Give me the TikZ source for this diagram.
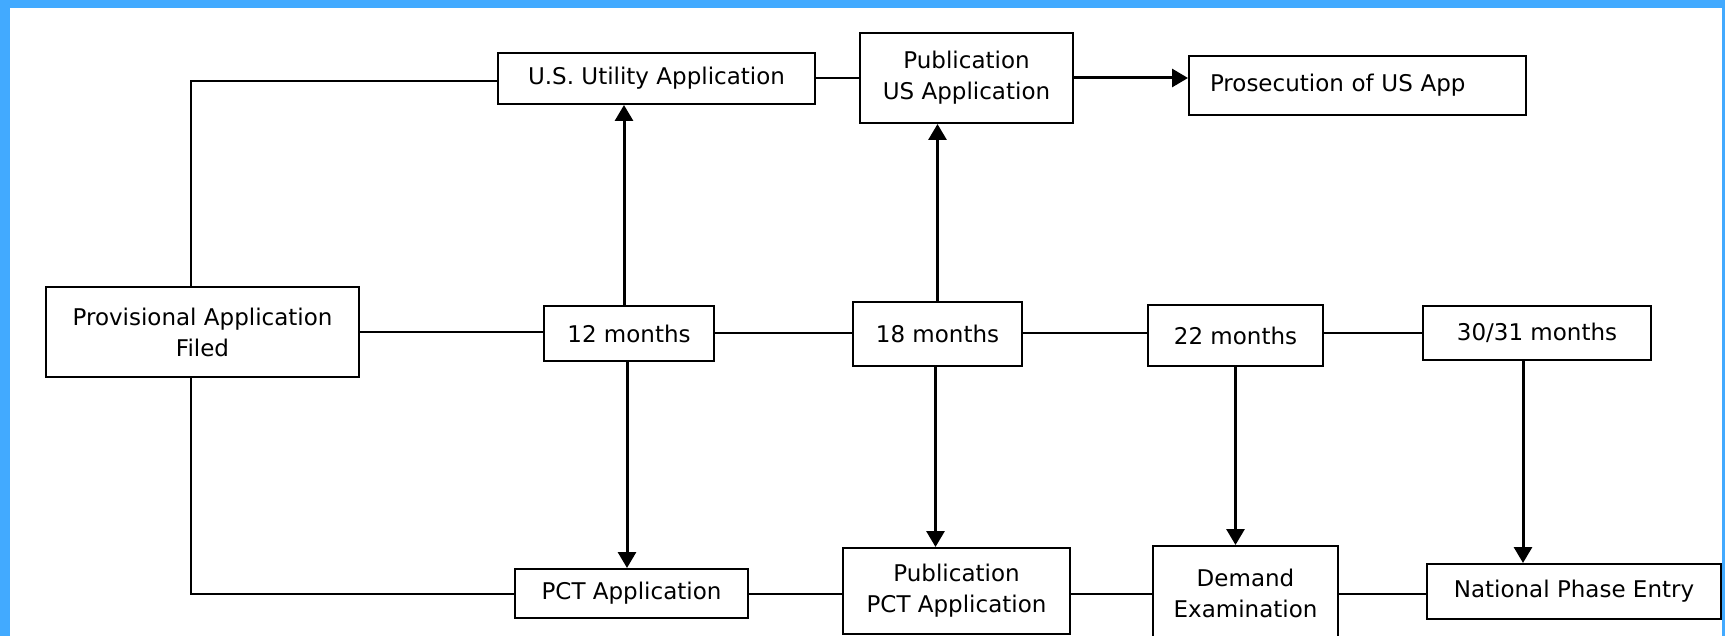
\documentclass[tikz,border=0pt]{standalone}
\usepackage{fontspec}
\setmainfont{DejaVu Sans}
\usetikzlibrary{arrows.meta}
\definecolor{frameblue}{RGB}{66,170,255}
\tikzset{
  box/.style={draw=black, line width=1pt, inner sep=0pt, align=center,
    font=\fontsize{11.5pt}{15.5pt}\selectfont},
  link/.style={draw=black, line width=1pt},
  arr/.style={draw=black, line width=1.5pt, -{Triangle[length=8pt,width=9pt]}}
}
\begin{document}
\begin{tikzpicture}[x=0.5pt,y=-0.5pt]
\useasboundingbox (0,0) rectangle (1725,636);
\fill[white] (0,0) rectangle (1725,636);
\fill[frameblue] (0,0) rectangle (1725,8);
\fill[frameblue] (0,0) rectangle (10,636);
\fill[frameblue] (1722,0) rectangle (1725,636);

% top row
\node[box, minimum width=158.5pt, minimum height=25.5pt] (usu) at (656.5,78.5) {U.S. Utility Application};
\node[box, minimum width=106.5pt, minimum height=45pt] (pubus) at (966.5,78) {Publication\\US Application};
\node[box, minimum height=29.5pt, text width=147.5pt, inner xsep=10.5pt, align=left] (pros) at (1357.5,85.5) {Prosecution of US App};

% middle row
\node[box, minimum width=156.5pt, minimum height=45pt] (prov) at (202.5,332) {Provisional Application\\Filed};
\node[box, minimum width=85pt, minimum height=27.5pt] (m12) at (629,333.5) {12 months};
\node[box, minimum width=84.5pt, minimum height=32pt] (m18) at (937.5,334) {18 months};
\node[box, minimum width=87.5pt, minimum height=30.5pt] (m22) at (1235.5,335.5) {22 months};
\node[box, minimum width=114pt, minimum height=27pt] (m30) at (1537,333) {30/31 months};

% bottom row
\node[box, minimum width=116.5pt, minimum height=24.5pt] (pct) at (631.5,593.5) {PCT Application};
\node[box, minimum width=113.5pt, minimum height=43pt] (pubpct) at (956.5,591) {Publication\\PCT Application};
\node[box, minimum width=92.5pt, minimum height=47pt] (dem) at (1245.5,593) {Demand\\Examination};
\node[box, minimum width=147pt, minimum height=27.5pt] (npe) at (1574,591.5) {National Phase Entry};

\coordinate (c1) at (191,81);
\coordinate (c2) at (191,594);

% frame lines from provisional
\draw[link] (prov.north -| c1) -- (c1) -- (c1 -| usu.west);
\draw[link] (prov.south -| c1) -- (c2) -- (c2 -| pct.west);

% top row links
\draw[link] (usu.east) -- (usu.east -| pubus.west);
\draw[arr] (pubus.east) -- (pubus.east -| pros.west);

% middle row links
\draw[link] (prov.east) -- (prov.east -| m12.west);
\draw[link] (m12.east) -- (m12.east -| m18.west);
\draw[link] (m18.east |- m12.east) -- (m12.east -| m22.west);
\draw[link] (m22.east |- m12.east) -- (m12.east -| m30.west);

% bottom row links
\draw[link] (pct.east) -- (pct.east -| pubpct.west);
\draw[link] (pubpct.east |- pct.east) -- (pct.east -| dem.west);
\draw[link] (dem.east |- pct.east) -- (pct.east -| npe.west);

% vertical arrows
\draw[arr] ([xshift=-2.5pt]m12.north) -- ([xshift=-2.5pt]m12.north |- usu.south);
\draw[arr] ([xshift=-1pt]m12.south) -- ([xshift=-1pt]m12.south |- pct.north);
\draw[arr] (m18.north) -- (m18.north |- pubus.south);
\draw[arr] ([xshift=-1pt]m18.south) -- ([xshift=-1pt]m18.south |- pubpct.north);
\draw[arr] (m22.south) -- (m22.south |- dem.north);
\draw[arr] ([xshift=-7pt]m30.south) -- ([xshift=-7pt]m30.south |- npe.north);
\end{tikzpicture}
\end{document}
